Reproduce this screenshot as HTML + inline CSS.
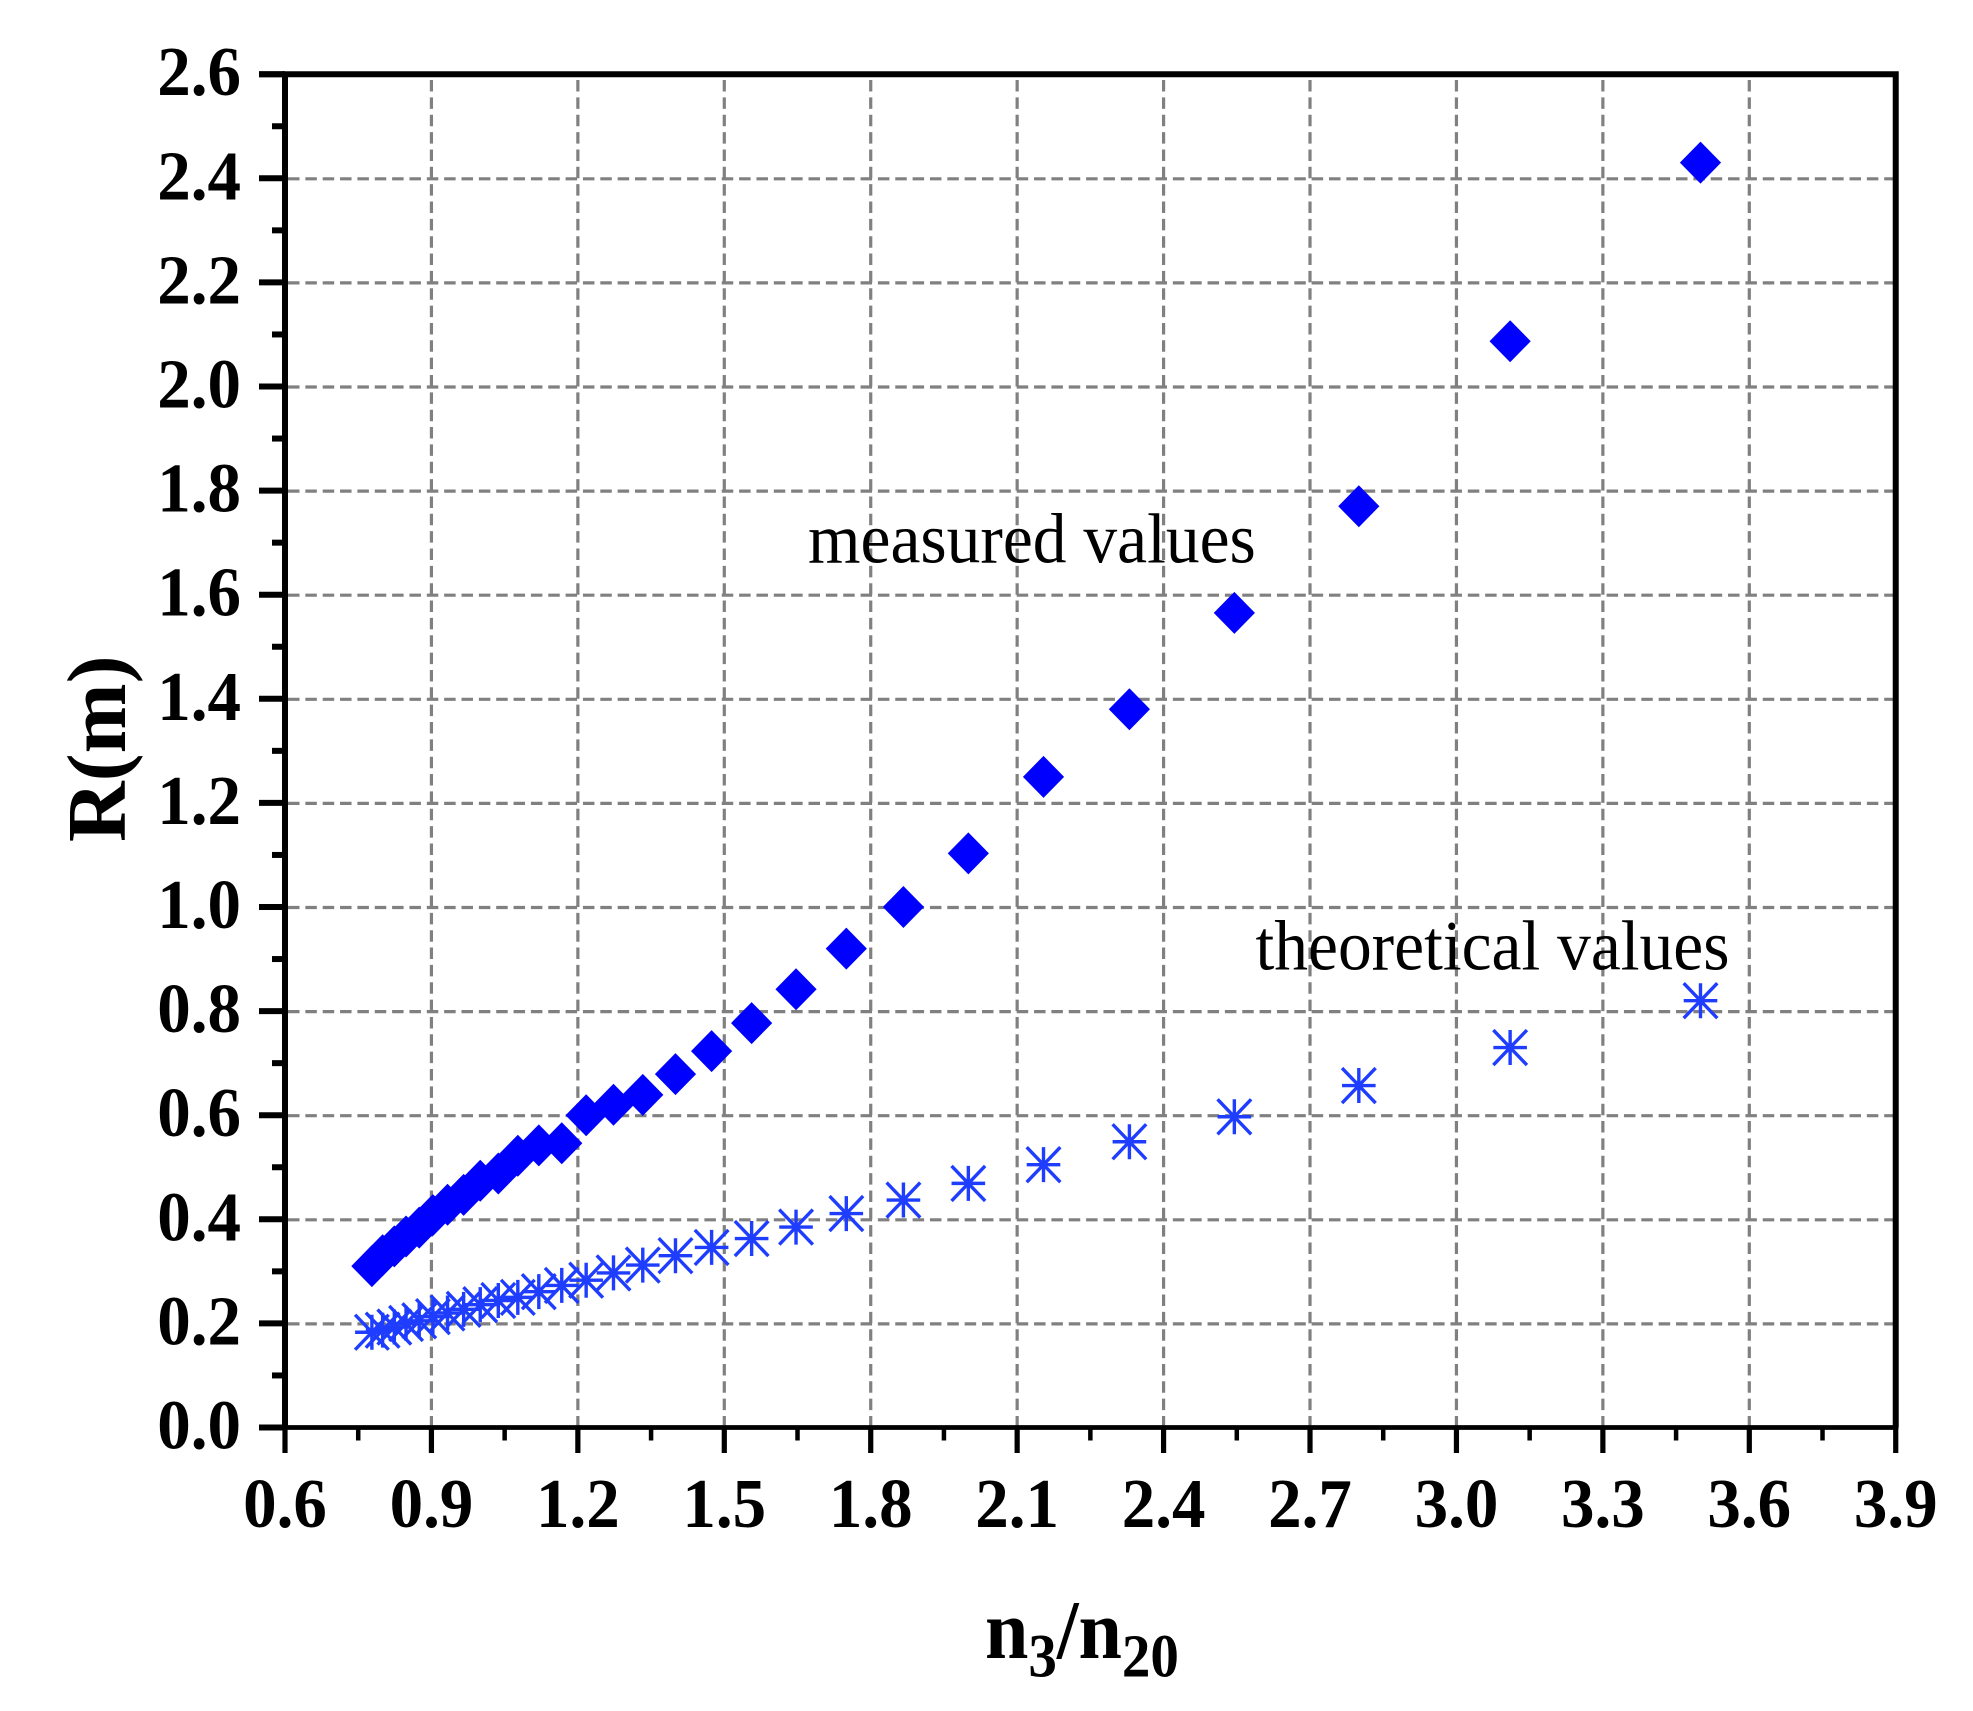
<!DOCTYPE html>
<html lang="en">
<head>
<meta charset="utf-8">
<title>R(m) versus n3/n20</title>
<style>
html,body{margin:0;padding:0;background:#fff;width:1973px;height:1711px;overflow:hidden}
svg{display:block}
text{font-family:"Liberation Serif",serif;fill:#000}
.tick{font-weight:bold;font-size:67px}
.note{font-size:67.5px}
</style>
</head>
<body>
<svg id="chart" xmlns="http://www.w3.org/2000/svg" width="1973" height="1711" viewBox="0 0 1973 1711">
<rect x="0" y="0" width="1973" height="1711" fill="#fff"/>
<g id="grid"></g>
<g id="axes"></g>
<g id="labels"></g>
<g id="series-measured"></g>
<g id="series-theoretical"></g>
<text class="note" transform="translate(808,562.5) scale(1,1.05)">measured values</text>
<text class="note" transform="translate(1255.5,969.5) scale(1,1.05)">theoretical values</text>
<text transform="translate(125,842) rotate(-90)" font-size="84" font-weight="bold">R(m)</text>
<text transform="translate(985,1658) scale(1,1.08)" font-size="78" font-weight="bold">n<tspan font-size="57" dy="17">3</tspan><tspan dy="-17">/n</tspan><tspan font-size="57" dy="17">20</tspan></text>
</svg>
<script>
const xValues = [3.5,3.11,2.8,2.545,2.33,2.154,2.0,1.867,1.75,1.647,1.556,1.474,1.4,1.333,1.273,1.217,1.167,1.12,1.077,1.037,1.0,0.966,0.933,0.903,0.875,0.848,0.824,0.8,0.778];
const measuredValues = [2.43,2.087,1.77,1.565,1.38,1.25,1.103,1.0,0.92,0.842,0.777,0.723,0.679,0.639,0.62,0.60,0.546,0.542,0.522,0.488,0.474,0.447,0.428,0.408,0.384,0.367,0.348,0.331,0.31];
const theoreticalValues = [0.82,0.73,0.657,0.597,0.549,0.505,0.469,0.437,0.411,0.385,0.363,0.346,0.33,0.312,0.297,0.283,0.273,0.261,0.25,0.244,0.236,0.227,0.22,0.213,0.205,0.2,0.193,0.187,0.183];
const xTickLabels = ["0.6","0.9","1.2","1.5","1.8","2.1","2.4","2.7","3.0","3.3","3.6","3.9"];
const yTickLabels = ["0.0","0.2","0.4","0.6","0.8","1.0","1.2","1.4","1.6","1.8","2.0","2.2","2.4","2.6"];

const NS = 'http://www.w3.org/2000/svg';
const X0 = 285, X_SCALE = 488.1, X_MIN = 0.6;
const Y0 = 1427.5, Y_SCALE = 520.5;
function sx(v){ return X0 + (v - X_MIN) * X_SCALE; }
function sy(v){ return Y0 - v * Y_SCALE; }
function make(tag, parent, props){
  const el = document.createElementNS(NS, tag);
  for (const k in props) el.setAttribute(k, props[k]);
  parent.appendChild(el);
  return el;
}
const grid = document.getElementById('grid');
const axes = document.getElementById('axes');
const labels = document.getElementById('labels');
const measuredLayer = document.getElementById('series-measured');
const theoreticalLayer = document.getElementById('series-theoretical');
const xRight = sx(+xTickLabels[xTickLabels.length - 1]);
const yTop = sy(+yTickLabels[yTickLabels.length - 1]);

xTickLabels.forEach(function(t, i){
  const v = +t, x = sx(v);
  if (i > 0 && i < xTickLabels.length - 1) {
    const g = make('line', grid, {x1:x, x2:x, y1:Y0, y2:yTop, stroke:'#808080', 'stroke-width':3.2, 'stroke-dasharray':'11.5 5.85'});
    
    
  }
  const tick = make('line', axes, {x1:x, x2:x, y1:Y0, y2:1453, stroke:'#000', 'stroke-width':5.2});
  
  
  if (i < xTickLabels.length - 1) {
    const mx = sx(v + 0.15);
    const minor = make('line', axes, {x1:mx, x2:mx, y1:Y0, y2:1440.5, stroke:'#000', 'stroke-width':4.5});
    
    
  }
  const lab = make('text', labels, {class:'tick', 'text-anchor':'middle', transform:'translate(' + x + ',1527) scale(1,1.05)'});
  lab.textContent = t;
  
  
});

yTickLabels.forEach(function(t, i){
  const v = +t, y = sy(v);
  if (i > 0 && i < yTickLabels.length - 1) {
    const g = make('line', grid, {x1:X0 + 3, x2:xRight, y1:y + 0.5, y2:y + 0.5, stroke:'#808080', 'stroke-width':3.2, 'stroke-dasharray':'11.5 5.85'});
    
    
  }
  const tick = make('line', axes, {x1:259, x2:X0, y1:y, y2:y, stroke:'#000', 'stroke-width':6});
  
  
  if (i < yTickLabels.length - 1) {
    const my = sy(v + 0.1);
    const minor = make('line', axes, {x1:272, x2:X0, y1:my, y2:my, stroke:'#000', 'stroke-width':6});
    
    
  }
  const lab = make('text', labels, {class:'tick', 'text-anchor':'end', transform:'translate(241,' + (y + 21) + ') scale(1,1.05)'});
  lab.textContent = t;
  
  
});

const frame = make('path', axes, {d:'M' + X0 + ' ' + Y0 + 'V' + yTop + 'H' + xRight + 'V' + Y0, fill:'none', stroke:'#000', 'stroke-width':6});


const bottomAxis = make('line', axes, {x1:259, x2:xRight + 2.6, y1:Y0, y2:Y0, stroke:'#000', 'stroke-width':4.8});


const topStub = make('line', axes, {x1:259, x2:X0, y1:yTop, y2:yTop, stroke:'#000', 'stroke-width':6});



xValues.forEach(function(xv, i){
  const x = sx(xv), y = sy(measuredValues[i]);
  const d = make('path', measuredLayer, {d:'M' + (x - 20.6) + ' ' + y + 'L' + x + ' ' + (y - 21) + 'L' + (x + 20.6) + ' ' + y + 'L' + x + ' ' + (y + 21) + 'Z', fill:'#0000ff'});
  
  
});
xValues.forEach(function(xv, i){
  const x = sx(xv), y = sy(theoreticalValues[i]);
  const hw = 16.8, hh = 17.5;
  const s = make('path', theoreticalLayer, {d:'M' + (x - hw) + ' ' + y + 'H' + (x + hw) + 'M' + x + ' ' + (y - hh) + 'V' + (y + hh) + 'M' + (x - hw) + ' ' + (y - hh) + 'L' + (x + hw) + ' ' + (y + hh) + 'M' + (x - hw) + ' ' + (y + hh) + 'L' + (x + hw) + ' ' + (y - hh), fill:'none', stroke:'#1f3dff', 'stroke-width':3.4});
  
  
});
</script>
</body>
</html>
